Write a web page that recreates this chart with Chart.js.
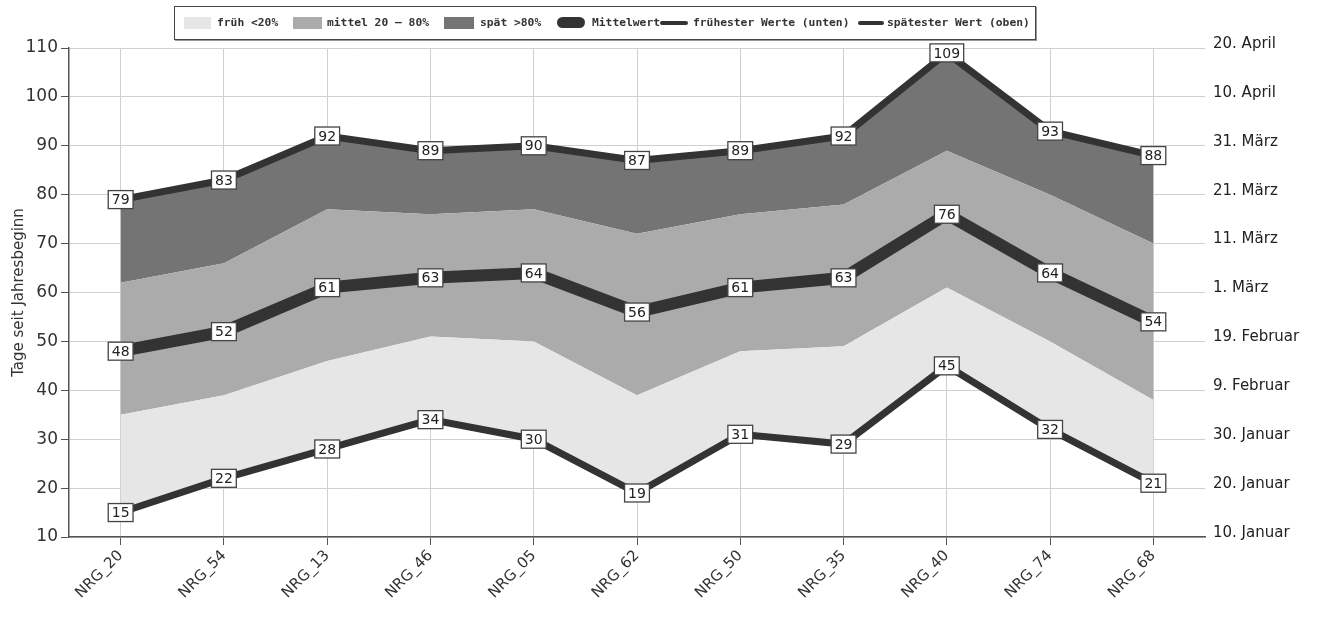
<!DOCTYPE html>
<html>
<head>
<meta charset="utf-8">
<script src="https://cdn.jsdelivr.net/npm/chart.js@4"></script>
<style>
  body { margin: 0; background: #fff; }
  #wrap { position: relative; width: 1317px; height: 620px; }
  #legend {
    position: absolute; left: 174px; top: 6px; width: 860px; height: 32px;
    border: 1.5px solid #444; box-shadow: 1px 1px 0 #999; background: #fff;
    font-family: "DejaVu Sans Mono", monospace; font-size: 11.3px; font-weight: bold; color: #333;
  }
  #legend span { position: absolute; top: 9px; white-space: nowrap; }
  #legend i { position: absolute; display: block; }
</style>
</head>
<body>
<div id="wrap">
  <canvas id="chart" width="1317" height="620"></canvas>
  <div id="legend">
    <i style="left:9px;top:10px;width:27px;height:12px;background:#e6e6e6"></i>
    <span style="left:42px">früh &lt;20%</span>
    <i style="left:118px;top:10px;width:29px;height:12px;background:#ababab"></i>
    <span style="left:152px">mittel 20 – 80%</span>
    <i style="left:269px;top:10px;width:30px;height:12px;background:#747474"></i>
    <span style="left:305px">spät &gt;80%</span>
    <i style="left:382px;top:10px;width:28px;height:11px;border-radius:6px;background:#333"></i>
    <span style="left:417px">Mittelwert</span>
    <i style="left:485px;top:14px;width:28px;height:4px;border-radius:2px;background:#333"></i>
    <span style="left:518px">frühester Werte (unten)</span>
    <i style="left:683px;top:14px;width:26px;height:4px;border-radius:2px;background:#333"></i>
    <span style="left:712px">spätester Wert (oben)</span>
  </div>
</div>
<script>
// Stationen und Werte (Tage seit Jahresbeginn)
const categories = ['NRG_20', 'NRG_54', 'NRG_13', 'NRG_46', 'NRG_05', 'NRG_62', 'NRG_50', 'NRG_35', 'NRG_40', 'NRG_74', 'NRG_68'];
const earliest = [15, 22, 28, 34, 30, 19, 31, 29, 45, 32, 21];
const p20 = [35, 39, 46, 51, 50, 39, 48, 49, 61, 50, 38];
const mean = [48, 52, 61, 63, 64, 56, 61, 63, 76, 64, 54];
const p80 = [62, 66, 77, 76, 77, 72, 76, 78, 89, 80, 70];
const latest = [79, 83, 92, 89, 90, 87, 89, 92, 109, 93, 88];

// rechte Achse: Datum zum Tag
const dayTicks = [10, 20, 30, 40, 50, 60, 70, 80, 90, 100, 110];
const dateTicks = ['10. Januar', '20. Januar', '30. Januar', '9. Februar', '19. Februar', '1. März',
  '11. März', '21. März', '31. März', '10. April', '20. April'];

const lineColor = '#333';

// white boxes with the value at every point of the line series
const boxLabels = {
  id: 'boxLabels',
  afterDatasetsDraw(chart) {
    const ctx = chart.ctx;
    ctx.save();
    ctx.font = '14px "DejaVu Sans"';
    ctx.textAlign = 'center';
    ctx.textBaseline = 'middle';
    chart.data.datasets.forEach((ds, i) => {
      if (!ds.boxLabels) return;
      chart.getDatasetMeta(i).data.forEach((pt, j) => {
        const txt = String(ds.data[j]);
        const w = ctx.measureText(txt).width + 7;
        const h = 18;
        ctx.fillStyle = '#fff';
        ctx.fillRect(pt.x - w / 2, pt.y - h / 2, w, h);
        ctx.strokeStyle = '#444';
        ctx.lineWidth = 1.3;
        ctx.strokeRect(pt.x - w / 2, pt.y - h / 2, w, h);
        ctx.fillStyle = '#222';
        ctx.fillText(txt, pt.x, pt.y + 1);
      });
    });
    ctx.restore();
  }
};

new Chart(document.getElementById('chart'), {
  type: 'line',
  data: {
    labels: categories,
    datasets: [
      { label: 'früh <20%', data: p20, fill: 4, backgroundColor: '#e6e6e6', borderWidth: 0, pointRadius: 0 },
      { label: 'mittel 20 – 80%', data: p80, fill: 0, backgroundColor: '#ababab', borderWidth: 0, pointRadius: 0 },
      { label: 'spätester Wert (oben)', data: latest, fill: 1, backgroundColor: '#747474',
        borderColor: lineColor, borderWidth: 7, pointRadius: 0, boxLabels: true },
      { label: 'Mittelwert', data: mean, fill: false, borderColor: lineColor, borderWidth: 12,
        pointRadius: 0, boxLabels: true },
      { label: 'frühester Werte (unten)', data: earliest, fill: false, borderColor: lineColor,
        borderWidth: 7, pointRadius: 0, boxLabels: true }
    ]
  },
  options: {
    responsive: false,
    animation: false,
    layout: { padding: { top: 48, left: 0, right: 0, bottom: 0 } },
    elements: { line: { tension: 0, borderJoinStyle: 'miter' } },
    plugins: {
      legend: { display: false },
      tooltip: { enabled: false },
      filler: { drawTime: 'beforeDatasetsDraw' }
    },
    scales: {
      x: {
        offset: true,
        grid: { color: '#cfcfcf', tickLength: 8, tickColor: '#555' },
        border: { color: '#555', width: 1.5 },
        ticks: { color: '#333', font: { family: 'DejaVu Sans', size: 15 }, minRotation: 45, maxRotation: 45, padding: 2 },
        afterFit(scale) { scale.height = 83; }
      },
      y: {
        min: 10, max: 110,
        ticks: { stepSize: 10, color: '#333', font: { family: 'DejaVu Sans', size: 17 }, padding: 3 },
        grid: { color: '#cfcfcf', tickLength: 8, tickColor: '#555' },
        border: { color: '#555', width: 1.5 },
        title: { display: true, text: 'Tage seit Jahresbeginn', color: '#333',
          font: { family: 'DejaVu Sans', size: 15 }, padding: { top: 10, bottom: 0 } },
        afterFit(scale) { scale.width = 69; }
      },
      y2: {
        position: 'right',
        min: 10, max: 110,
        grid: { display: false },
        border: { display: false },
        ticks: {
          stepSize: 10, color: '#222', font: { family: 'DejaVu Sans', size: 15 }, padding: 0, labelOffset: -4,
          callback: v => dateTicks[dayTicks.indexOf(v)]
        },
        afterFit(scale) { scale.width = 112; }
      }
    }
  },
  plugins: [boxLabels]
});
</script>
</body>
</html>
